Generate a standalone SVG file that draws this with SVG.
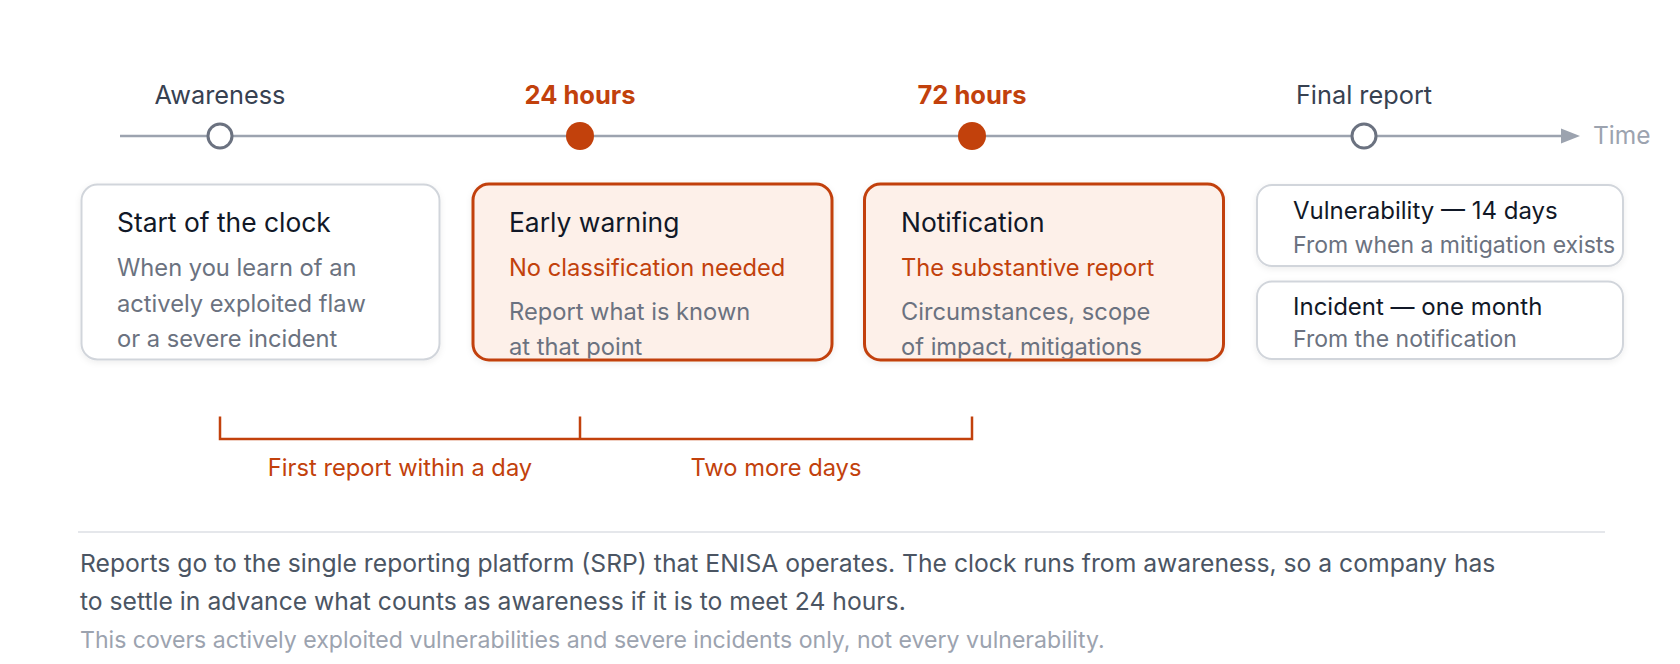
<svg xmlns="http://www.w3.org/2000/svg" width="1680" height="664" viewBox="0 0 1680 664">
<defs>
<style>
text{font-family:Inter,"Noto Sans","Liberation Sans",sans-serif}
.lbl{font-size:25.3px;fill:#374151;text-anchor:middle}
.lblh{font-size:25.5px;fill:#c2410c;font-weight:700;text-anchor:middle}
.ttl{font-size:26.4px;fill:#111827}
.ttl2{font-size:24px;fill:#111827}
.body{font-size:23.7px;fill:#6b7280}
.body2{font-size:23px;fill:#6b7280}
.or{font-size:23.7px;fill:#c2410c}
.card{fill:#ffffff;stroke:#d1d5db;stroke-width:2}
.hot{fill:#fdf0e9;stroke:#c2410c;stroke-width:3}
.axis{stroke:#9ca3af;stroke-width:2.5;fill:none}
.brk{stroke:#c2410c;stroke-width:2.5;fill:none}
.foot{font-size:24.7px;fill:#4b5563}
.note{font-size:23.1px;fill:#9ca3af}
</style>
<filter id="sh" x="-10%" y="-10%" width="120%" height="130%">
<feDropShadow dx="0" dy="2" stdDeviation="3" flood-color="#000" flood-opacity="0.07"/>
</filter>
<clipPath id="c2"><rect x="474.5" y="185.5" width="356" height="173" rx="15"/></clipPath>
<clipPath id="c3"><rect x="866" y="185.5" width="356" height="173" rx="15"/></clipPath>
</defs>
<rect width="1680" height="664" fill="#ffffff"/>

<g id="connectors">
<line class="axis" x1="120" y1="136" x2="1563" y2="136"/>
<path d="M1561,128.5 L1580,136 L1561,143.5 Z" fill="#9ca3af"/>
<path class="brk" d="M220,416.5 V439 H972 V416.5 M580,416.5 V439"/>
</g>

<g id="awareness">
<text class="lbl" x="220" y="104">Awareness</text>
<circle cx="220" cy="136" r="12" fill="#ffffff" stroke="#6b7280" stroke-width="3"/>
</g>
<g id="h24">
<text class="lblh" x="580" y="104">24 hours</text>
<circle cx="580" cy="136" r="14" fill="#c2410c"/>
</g>
<g id="h72">
<text class="lblh" x="972" y="104">72 hours</text>
<circle cx="972" cy="136" r="14" fill="#c2410c"/>
</g>
<g id="final">
<text class="lbl" x="1364" y="104">Final report</text>
<circle cx="1364" cy="136" r="12" fill="#ffffff" stroke="#6b7280" stroke-width="3"/>
</g>
<g id="time">
<text x="1593" y="144" style="font-size:24.5px;fill:#9ca3af">Time</text>
</g>

<g id="start">
<rect class="card" x="81.5" y="184.5" width="358" height="175" rx="16" filter="url(#sh)"/>
<text class="ttl" x="117" y="232">Start of the clock</text>
<text class="body" x="117" y="276">When you learn of an</text>
<text class="body" x="117" y="311.5">actively exploited flaw</text>
<text class="body" x="117" y="347">or a severe incident</text>
</g>

<g id="early">
<rect class="hot" x="473" y="184" width="359" height="176" rx="16" filter="url(#sh)"/>
<g clip-path="url(#c2)">
<text class="ttl" x="509" y="232">Early warning</text>
<text class="or" x="509" y="276">No classification needed</text>
<text class="body" x="509" y="320">Report what is known</text>
<text class="body" x="509" y="355">at that point</text>
</g>
</g>

<g id="notification">
<rect class="hot" x="864.5" y="184" width="359" height="176" rx="16" filter="url(#sh)"/>
<g clip-path="url(#c3)">
<text class="ttl" x="901" y="232">Notification</text>
<text class="or" x="901" y="276">The substantive report</text>
<text class="body" x="901" y="320">Circumstances, scope</text>
<text class="body" x="901" y="355">of impact, mitigations</text>
</g>
</g>

<g id="vuln">
<rect class="card" x="1257" y="185" width="366" height="81" rx="15" filter="url(#sh)"/>
<text class="ttl2" x="1293" y="219">Vulnerability — 14 days</text>
<text class="body2" x="1293" y="253">From when a mitigation exists</text>
</g>

<g id="incident">
<rect class="card" x="1257" y="281.5" width="366" height="77.5" rx="15" filter="url(#sh)"/>
<text class="ttl2" x="1293" y="315">Incident — one month</text>
<text class="body2" x="1293" y="347">From the notification</text>
</g>

<g id="brackets-labels">
<text class="or" x="400" y="476" text-anchor="middle">First report within a day</text>
<text class="or" x="776" y="476" text-anchor="middle">Two more days</text>
</g>

<g id="footer">
<line x1="78" y1="532" x2="1605" y2="532" stroke="#e5e7eb" stroke-width="2"/>
<text class="foot" x="80" y="572">Reports go to the single reporting platform (SRP) that ENISA operates. The clock runs from awareness, so a company has</text>
<text class="foot" x="80" y="610">to settle in advance what counts as awareness if it is to meet 24 hours.</text>
<text class="note" x="80" y="648">This covers actively exploited vulnerabilities and severe incidents only, not every vulnerability.</text>
</g>
</svg>
